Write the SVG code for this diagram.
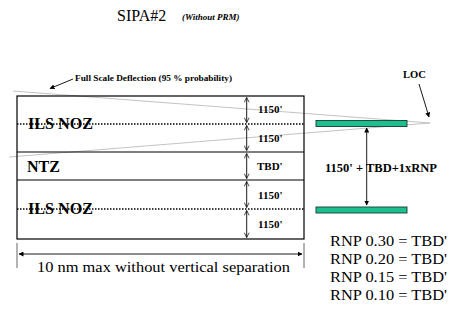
<svg xmlns="http://www.w3.org/2000/svg" width="451" height="322" viewBox="0 0 451 322">
  <defs>
    <marker id="tri" viewBox="0 0 10 10" refX="9" refY="5" markerWidth="5" markerHeight="5" orient="auto-start-reverse" markerUnits="userSpaceOnUse">
      <path d="M0,0 L10,5 L0,10 z" fill="#000"/>
    </marker>
    <marker id="vee" viewBox="0 0 10 10" refX="9" refY="5" markerWidth="6" markerHeight="6" orient="auto-start-reverse" markerUnits="userSpaceOnUse">
      <path d="M1,1 L9,5 L1,9" fill="none" stroke="#000" stroke-width="1.2"/>
    </marker>
  </defs>
  <style>
    text { font-family: 'Liberation Serif', 'DejaVu Serif', serif; fill: #000; }
    .b { font-weight: bold; }
    .solid { stroke: #000; stroke-width: 1.2; fill: none; }
    .dot { stroke: #000; stroke-width: 1.5; stroke-dasharray: 1.5 1.5; fill: none; }
    .beam { stroke: #b4b4b4; stroke-width: 0.8; fill: none; }
    .dim { stroke: #000; stroke-width: 0.9; fill: none; }
    .bar { fill: #1dbf8e; stroke: #1a3a30; stroke-width: 0.9; }
  </style>
  <rect width="451" height="322" fill="#fff"/>

  <!-- title -->
  <g id="title">
    <text x="117" y="21" font-size="16">SIPA#2</text>
    <text class="b" x="182" y="20" font-size="9" font-style="italic">(Without PRM)</text>
  </g>

  <!-- localizer beam edges (full scale deflection) -->
  <g id="beam">
    <line class="beam" x1="13" y1="91" x2="430" y2="123"/>
    <line class="beam" x1="9" y1="157" x2="430" y2="123"/>
  </g>

  <!-- separation table -->
  <g id="table">
    <rect class="solid" x="17" y="96" width="287" height="143"/>
    <line class="solid" x1="17" y1="152" x2="304" y2="152"/>
    <line class="solid" x1="17" y1="180" x2="304" y2="180"/>
    <line class="dot" x1="17" y1="124" x2="304" y2="124"/>
    <line class="dot" x1="17" y1="209" x2="304" y2="209"/>
  </g>

  <g id="zone-noz-1">
    <text class="b" x="28" y="129" font-size="17" textLength="65" lengthAdjust="spacingAndGlyphs">ILS NOZ</text>
  </g>
  <g id="zone-ntz">
    <text class="b" x="27" y="172" font-size="16">NTZ</text>
  </g>
  <g id="zone-noz-2">
    <text class="b" x="28" y="214" font-size="17" textLength="65" lengthAdjust="spacingAndGlyphs">ILS NOZ</text>
  </g>

  <!-- row heights -->
  <g id="row-heights">
    <line class="dim" x1="246.7" y1="97.5" x2="246.7" y2="122.5" marker-start="url(#vee)" marker-end="url(#vee)"/>
    <line class="dim" x1="246.7" y1="125.5" x2="246.7" y2="150.5" marker-start="url(#vee)" marker-end="url(#vee)"/>
    <line class="dim" x1="246.7" y1="153.5" x2="246.7" y2="178.5" marker-start="url(#vee)" marker-end="url(#vee)"/>
    <line class="dim" x1="246.7" y1="181.5" x2="246.7" y2="207.5" marker-start="url(#vee)" marker-end="url(#vee)"/>
    <line class="dim" x1="246.7" y1="210.5" x2="246.7" y2="237.5" marker-start="url(#vee)" marker-end="url(#vee)"/>
    <text class="b" x="258" y="113" font-size="11">1150'</text>
    <text class="b" x="258" y="142" font-size="11">1150'</text>
    <text class="b" x="257" y="170" font-size="11">TBD'</text>
    <text class="b" x="258" y="199" font-size="11">1150'</text>
    <text class="b" x="258" y="228" font-size="11">1150'</text>
  </g>

  <!-- runways -->
  <g id="runway-1">
    <rect class="bar" x="316" y="120.5" width="91" height="6"/>
  </g>
  <g id="runway-2">
    <rect class="bar" x="316" y="207" width="91" height="6"/>
  </g>

  <g id="loc">
    <text class="b" x="403" y="78" font-size="10.5">LOC</text>
  </g>

  <g id="fsd-label">
    <text class="b" x="75" y="81" font-size="8.5" textLength="157" lengthAdjust="spacingAndGlyphs">Full Scale Deflection (95 % probability)</text>
  </g>

  <g id="spacing-label">
    <text class="b" x="325" y="172" font-size="12" textLength="112" lengthAdjust="spacingAndGlyphs">1150' + TBD+1xRNP</text>
  </g>

  <g id="rnp-values">
    <text x="330" y="246" font-size="15.5" textLength="117" lengthAdjust="spacingAndGlyphs">RNP 0.30 = TBD'</text>
    <text x="330" y="264" font-size="15.5" textLength="117" lengthAdjust="spacingAndGlyphs">RNP 0.20 = TBD'</text>
    <text x="330" y="282" font-size="15.5" textLength="117" lengthAdjust="spacingAndGlyphs">RNP 0.15 = TBD'</text>
    <text x="330" y="300" font-size="15.5" textLength="117" lengthAdjust="spacingAndGlyphs">RNP 0.10 = TBD'</text>
  </g>

  <g id="width-label">
    <text x="37" y="272" font-size="15" textLength="253" lengthAdjust="spacingAndGlyphs">10 nm max without vertical separation</text>
  </g>

  <!-- connectors -->
  <g id="connectors">
    <line class="dim" x1="73" y1="79" x2="50" y2="88.5" marker-end="url(#tri)"/>
    <line class="dim" x1="419" y1="84" x2="429" y2="117" marker-end="url(#tri)"/>
    <line class="dim" x1="366.7" y1="128" x2="366.7" y2="205" marker-start="url(#tri)" marker-end="url(#tri)"/>
    <line stroke="#555" stroke-width="0.9" x1="17" y1="243" x2="17" y2="268"/>
    <line stroke="#555" stroke-width="0.9" x1="304" y1="243" x2="304" y2="268"/>
    <line class="dim" x1="19" y1="254" x2="302" y2="254" marker-start="url(#tri)" marker-end="url(#tri)"/>
  </g>
</svg>
